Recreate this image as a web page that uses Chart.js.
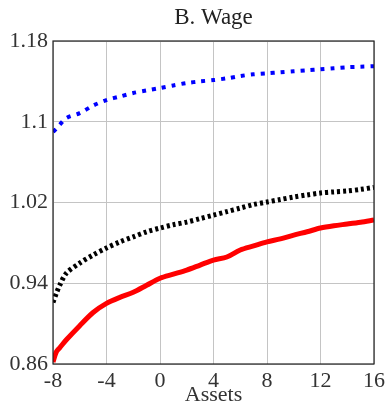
<!DOCTYPE html>
<html>
<head>
<meta charset="utf-8">
<script src="https://cdn.jsdelivr.net/npm/chart.js@4"></script>
<style>
  html, body { margin: 0; padding: 0; background: #fff; }
  #wrap { width: 389px; height: 403px; }
</style>
</head>
<body>
<div id="wrap"><canvas id="wageChart"></canvas></div>
<script>
    // asset grid and wage profiles
    var assets   = [-8, -7.75, -7.5, -7, -6, -5, -4, -3, -2, -1, 0, 1, 2, 3, 4, 5, 6, 7, 8, 9, 10, 11, 12, 13, 14, 15, 16];
    var wageBlue = [1.090, 1.093, 1.097, 1.1037, 1.1086, 1.116, 1.1215, 1.125, 1.1285, 1.131, 1.1334, 1.136, 1.1384, 1.140, 1.1413, 1.143, 1.1453, 1.147, 1.148, 1.149, 1.150, 1.151, 1.152, 1.153, 1.154, 1.1545, 1.155];
    var wageBlack = [0.921, 0.930, 0.938, 0.950, 0.960, 0.968, 0.975, 0.981, 0.986, 0.991, 0.9947, 0.998, 1.0006, 1.004, 1.0075, 1.011, 1.0145, 1.018, 1.0205, 1.023, 1.0254, 1.0275, 1.0294, 1.0305, 1.0314, 1.033, 1.035];
    var wageRed  = [0.862, 0.872, 0.876, 0.884, 0.898, 0.911, 0.920, 0.926, 0.931, 0.938, 0.945, 0.949, 0.953, 0.958, 0.963, 0.966, 0.973, 0.977, 0.981, 0.984, 0.9877, 0.991, 0.9947, 0.997, 0.9987, 1.0005, 1.0026];
    var xTicks = [-8, -4, 0, 4, 8, 12, 16];
    var yTicks = [0.86, 0.94, 1.02, 1.1, 1.18];

    function pts(ys) {
        return assets.map(function (a, i) { return { x: a, y: ys[i] }; });
    }

    var serif = "'Liberation Serif', 'DejaVu Serif', serif";

    // frame round the plot and the title over the plot centre
    var framePlugin = {
        id: 'frame',
        afterDraw: function (chart) {
            var c = chart.ctx, a = chart.chartArea;
            c.save();
            c.strokeStyle = '#222';
            c.lineWidth = 1.2;
            c.strokeRect(a.left, a.top, a.right - a.left, a.bottom - a.top);
            c.fillStyle = '#222';
            c.font = '23px ' + serif;
            c.textAlign = 'center';
            c.textBaseline = 'middle';
            c.fillText('B. Wage', (a.left + a.right) / 2, 18);
            c.restore();
        }
    };

    var ctx = document.getElementById('wageChart').getContext('2d');
    var myChart = new Chart(ctx, {
        type: 'line',
        data: {
            datasets: [
                { label: 'blue', data: pts(wageBlue), borderColor: '#0000ff', borderWidth: 4, borderDash: [4, 6], pointRadius: 0, tension: 0.3, fill: false },
                { label: 'black', data: pts(wageBlack), borderColor: '#000000', borderWidth: 5, borderDash: [3, 3], pointRadius: 0, tension: 0.3, fill: false },
                { label: 'red', data: pts(wageRed), borderColor: '#ff0000', borderWidth: 5, pointRadius: 0, tension: 0.3, fill: false }
            ]
        },
        options: {
            responsive: true,
            maintainAspectRatio: false,
            animation: false,
            layout: { padding: { top: 41, right: 13, left: 0, bottom: 0 } },
            plugins: {
                legend: { display: false },
                tooltip: { enabled: false }
            },
            scales: {
                x: {
                    type: 'linear',
                    min: -8,
                    max: 16,
                    afterBuildTicks: function (s) { s.ticks = xTicks.map(function (v) { return { value: v }; }); },
                    afterFit: function (s) { s.height = 39; },
                    grid: { color: '#c4c4c4', lineWidth: 1, drawTicks: false },
                    border: { display: false },
                    ticks: { color: '#333', padding: 4, maxRotation: 0, font: { family: serif, size: 22 } },
                    title: { display: true, text: 'Assets', color: '#333', padding: { top: 0, bottom: -5 }, font: { family: serif, size: 22 } }
                },
                y: {
                    min: 0.86,
                    max: 1.18,
                    afterBuildTicks: function (s) { s.ticks = yTicks.map(function (v) { return { value: v }; }); },
                    afterFit: function (s) { s.width = 53; },
                    grid: { color: '#c4c4c4', lineWidth: 1, drawTicks: false },
                    border: { display: false },
                    ticks: {
                        color: '#333', padding: 5,
                        font: { family: serif, size: 22 },
                        callback: function (v) { return String(Number(v.toFixed(2))); }
                    }
                }
            }
        },
        plugins: [framePlugin]
    });
</script>
</body>
</html>
